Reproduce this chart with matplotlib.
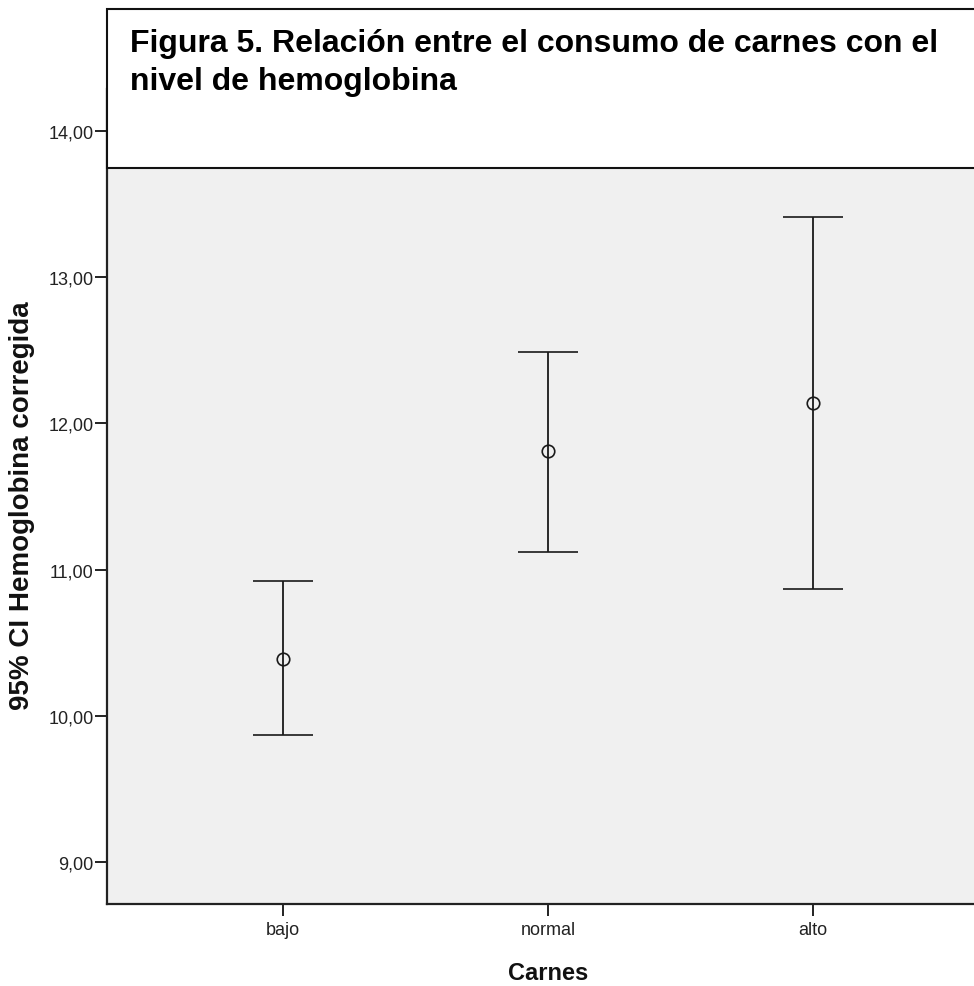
import matplotlib.pyplot as plt
from matplotlib.patches import Rectangle
from matplotlib.ticker import FuncFormatter

# data (95% CI of corrected hemoglobin by meat intake)
categories = ['bajo', 'normal', 'alto']
means = [10.39, 11.81, 12.14]
lower = [9.87, 11.12, 10.87]
upper = [10.92, 12.49, 13.41]
yticks = [9, 10, 11, 12, 13, 14]

title_lines = ['Figura 5. Relación entre el consumo de carnes con el',
               'nivel de hemoglobina']
ylabel = '95% CI Hemoglobina corregida'
xlabel = 'Carnes'

narrow = ['Liberation Sans Narrow', 'Liberation Sans', 'DejaVu Sans']
plt.rcParams['font.family'] = ['Liberation Sans', 'DejaVu Sans']

W, H, DPI = 974, 987, 100
fig = plt.figure(figsize=(W / DPI, H / DPI), dpi=DPI)

# axes placed in pixels: left 107, right 989 (cut by figure edge), top 90, bottom 905
ax = fig.add_axes([107 / W, (H - 905) / H, (989 - 107) / W, (905 - 90) / H])
ax.set_facecolor('#f0f0f0')

x = [1, 2, 3]
err_lo = [m - l for m, l in zip(means, lower)]
err_hi = [u - m for m, u in zip(means, upper)]
ax.errorbar(x, means, yerr=[err_lo, err_hi], fmt='o', color='#1a1a1a',
            ecolor='#1a1a1a', elinewidth=1.3, capsize=21.6, capthick=1.7,
            markersize=9, markerfacecolor='none', markeredgewidth=1.2)

ax.set_xlim(0.336, 3.664)
ax.set_ylim(8.713, 14.287)

ax.set_xticks(x)
ax.set_xticklabels(categories)
ax.set_yticks(yticks)
ax.yaxis.set_major_formatter(FuncFormatter(lambda v, p: f'{v:.2f}'.replace('.', ',')))

for lab in ax.get_xticklabels() + ax.get_yticklabels():
    lab.set_family(narrow)
    lab.set_fontsize(13)
    lab.set_color('#222222')

ax.tick_params(axis='y', length=8.6, width=1.4, pad=1, color='#222222')
ax.tick_params(axis='x', length=8.6, width=1.4, pad=4, color='#222222')

for side in ['top', 'right']:
    ax.spines[side].set_visible(False)
for side in ['left', 'bottom']:
    ax.spines[side].set_linewidth(1.6)
    ax.spines[side].set_color('#222222')

fig.text(548 / W, 1 - 974 / H, xlabel, family=narrow, fontweight='bold',
         fontsize=17, ha='center', va='center', color='#111111')
fig.text(22 / W, 1 - 506 / H, ylabel, fontweight='bold', fontsize=20,
         rotation=90, ha='center', va='center', color='#111111')

# title box drawn on top of the plot area
box = Rectangle((107 / W, (H - 169) / H), 0.95, 159 / H, transform=fig.transFigure,
                facecolor='white', edgecolor='#111111', linewidth=1.5, zorder=10)
fig.patches.append(box)
for i, line in enumerate(title_lines):
    fig.text(130 / W, 1 - (52 + 38 * i) / H, line, fontweight='bold', fontsize=23,
             ha='left', va='baseline', color='black', zorder=11)

fig.savefig('out.png', dpi=DPI)
